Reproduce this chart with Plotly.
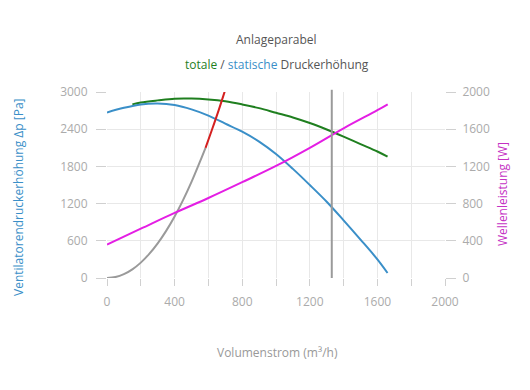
import plotly.graph_objects as go

# Volumenstrom (m³/h) sample points
q_static = [0, 100, 200, 300, 400, 500, 600, 700, 800, 900, 1000, 1100, 1200, 1300, 1400, 1500, 1600, 1660]
p_static = [2670, 2745, 2800, 2815, 2790, 2720, 2620, 2490, 2360, 2200, 2000, 1760, 1500, 1230, 930, 620, 300, 80]

q_total = [150, 200, 300, 400, 500, 600, 700, 800, 900, 1000, 1100, 1200, 1300, 1400, 1500, 1600, 1660]
p_total = [2800, 2830, 2865, 2893, 2895, 2880, 2850, 2800, 2740, 2665, 2590, 2500, 2395, 2280, 2160, 2040, 1956]

q_para_gray = [0, 50, 100, 150, 200, 250, 300, 350, 400, 450, 500, 550, 583]
p_para_gray = [0, 15, 62, 140, 248, 388, 558, 760, 992, 1256, 1550, 1876, 2100]

q_para_red = [583, 620, 660, 700, 710]
p_para_red = [2100, 2383, 2700, 3038, 3125]

q_power = [0, 200, 400, 600, 800, 1000, 1200, 1400, 1600, 1661]
w_power = [360, 530, 700, 860, 1030, 1205, 1400, 1610, 1805, 1868]

q_operating = 1330

x_tickvals = [0, 200, 400, 600, 800, 1000, 1200, 1400, 1600, 1800, 2000]
x_ticktext = ["0", "", "400", "", "800", "", "1200", "", "1600", "", "2000"]
y_tickvals = [0, 600, 1200, 1800, 2400, 3000]
y2_tickvals = [0, 400, 800, 1200, 1600, 2000]

BLUE = "#3a8fc8"
GREEN = "#1f7f1f"
RED = "#d42020"
GRAY = "#9a9a9a"
MAGENTA = "#e41ee4"
FONT = "Open Sans"

# page body has an 8px margin; plot area targeted at x 107..445, y 92..278 in the window
OFF = 8
PL, PR, PT, PB = 107, 445, 92, 278
PW, PH = PR - PL, PB - PT
FW, FH = 530 - 2 * OFF, 390 - 2 * OFF


def px(x):
    return (x - PL) / PW


def py(y):
    return (PB - y) / PH


fig = go.Figure()
fig.add_trace(go.Scatter(x=q_para_gray, y=p_para_gray, mode="lines",
                         line=dict(color=GRAY, width=2, shape="spline"), hoverinfo="skip"))
fig.add_trace(go.Scatter(x=q_total, y=p_total, mode="lines",
                         line=dict(color=GREEN, width=2, shape="spline")))
fig.add_trace(go.Scatter(x=q_static, y=p_static, mode="lines",
                         line=dict(color=BLUE, width=2, shape="spline")))
fig.add_trace(go.Scatter(x=q_para_red, y=p_para_red, mode="lines",
                         line=dict(color=RED, width=2, shape="spline")))
fig.add_trace(go.Scatter(x=q_power, y=w_power, mode="lines", yaxis="y2",
                         line=dict(color=MAGENTA, width=2, shape="spline")))

fig.add_shape(type="line", xref="x", yref="paper", x0=q_operating, x1=q_operating,
              y0=0, y1=1.012, line=dict(color=GRAY, width=2))

axis_common = dict(
    showgrid=True, gridcolor="#e8e8e8", gridwidth=1,
    zeroline=False, showline=False, automargin=False,
    ticks="outside", ticklen=10, tickcolor="#d0d0d0", tickwidth=1,
    tickfont=dict(family=FONT, size=12, color="#ababab"),
)


def ann(text, x, y, color, angle=0):
    return dict(text=text, x=px(x), y=py(y), xref="paper", yref="paper",
                xanchor="center", yanchor="middle", textangle=angle,
                showarrow=False, font=dict(family=FONT, size=12, color=color))


fig.update_layout(
    width=FW, height=FH,
    margin=dict(l=PL - OFF, r=FW - (PR - OFF), t=PT - OFF, b=FH - (PB - OFF), autoexpand=False),
    paper_bgcolor="white", plot_bgcolor="white",
    showlegend=False,
    font=dict(family=FONT, size=12, color="#666"),
    xaxis=dict(range=[0, 2000], tickmode="array", tickvals=x_tickvals, ticktext=x_ticktext,
               ticklabelstandoff=6, **{**axis_common, "ticklen": 7}),
    yaxis=dict(range=[0, 3000], tickmode="array", tickvals=y_tickvals,
               ticklabelstandoff=6, **axis_common),
    yaxis2=dict(range=[0, 2000], tickmode="array", tickvals=y2_tickvals, overlaying="y",
                side="right", ticklabelstandoff=4,
                **{**axis_common, "showgrid": False}),
    annotations=[
        ann("Anlageparabel", 276, 39, "#555"),
        ann(f"<span style='color:{GREEN}'>totale</span> / "
            f"<span style='color:{BLUE}'>statische</span> Druckerhöhung", 277, 65, "#555"),
        ann("Ventilatorendruckerhöhung Δp [Pa]", 18, 197, BLUE, -90),
        ann("Wellenleistung [W]", 502, 194, "#c431c4", -90),
        ann("Volumenstrom (m³/h)", 277, 352, "#999"),
    ],
)

fig.write_html("out.html")
